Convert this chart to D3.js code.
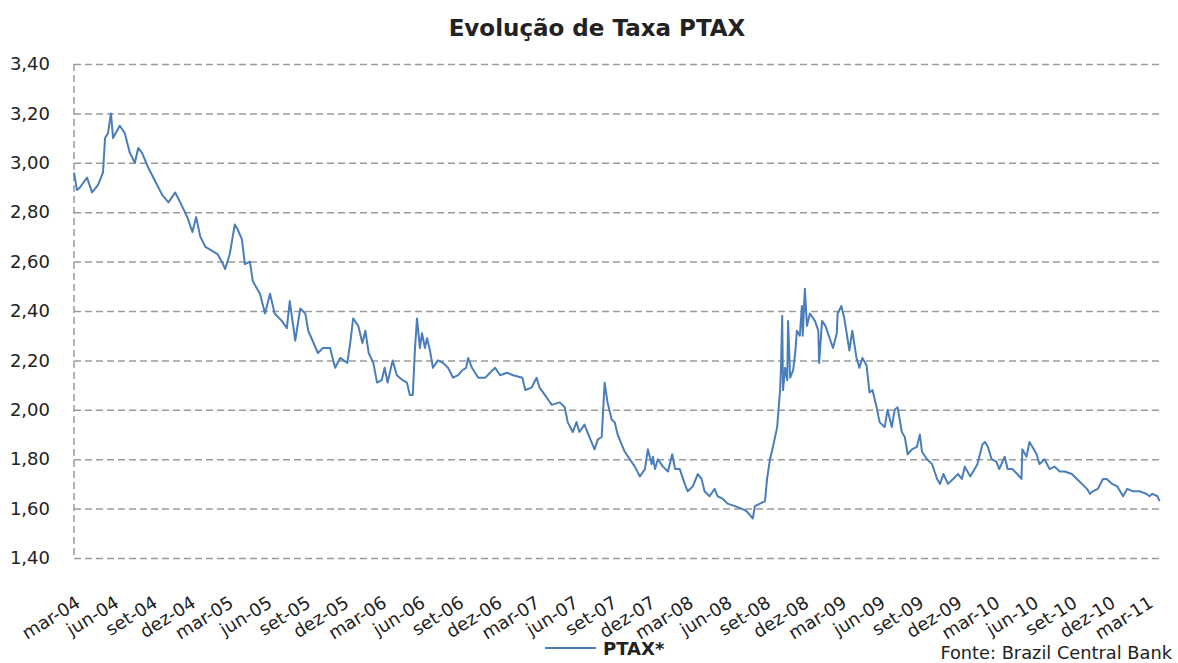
<!DOCTYPE html>
<html>
<head>
<meta charset="utf-8">
<script src="https://cdn.jsdelivr.net/npm/d3@7"></script>
<style>
  body { margin: 0; background: #fff; }
  text { font-family: 'DejaVu Sans', Verdana, sans-serif; fill: #222; }
</style>
</head>
<body>
<div id="chart"></div>
<script>
// PTAX (BRL per USD)
const dates = [
  '2004-03-01','2004-03-08','2004-03-15','2004-04-01','2004-04-13','2004-04-27','2004-05-09','2004-05-14','2004-05-21','2004-05-28',
  '2004-06-02','2004-06-18','2004-06-30','2004-07-12','2004-07-24','2004-08-01','2004-08-10','2004-08-25','2004-09-15','2004-09-27',
  '2004-10-12','2004-10-28','2004-11-09','2004-11-26','2004-12-08','2004-12-17','2004-12-27',
  '2005-01-08','2005-02-06','2005-02-19','2005-02-24','2005-03-07','2005-03-19','2005-03-26','2005-04-05','2005-04-12','2005-04-24',
  '2005-05-01','2005-05-18','2005-05-30','2005-06-11','2005-06-22','2005-07-09','2005-07-21','2005-07-28','2005-08-10','2005-08-22',
  '2005-09-03','2005-09-10','2005-10-03','2005-10-15','2005-11-01','2005-11-13','2005-11-25','2005-12-12','2005-12-19','2005-12-26',
  '2006-01-07','2006-01-17','2006-01-24','2006-02-01','2006-02-12','2006-02-21','2006-03-04','2006-03-11','2006-03-18','2006-03-30',
  '2006-04-09','2006-04-23','2006-05-03','2006-05-10','2006-05-17','2006-05-22','2006-05-27','2006-06-03','2006-06-08','2006-06-15',
  '2006-06-20','2006-06-27','2006-07-04','2006-07-16','2006-07-28','2006-08-09','2006-08-21','2006-09-02','2006-09-12','2006-09-21',
  '2006-09-26','2006-10-05','2006-10-20','2006-11-06','2006-11-17','2006-11-29','2006-12-11','2006-12-28',
  '2007-01-11','2007-02-02','2007-02-09','2007-02-24','2007-03-08','2007-03-15','2007-04-01','2007-04-13','2007-05-02','2007-05-14',
  '2007-05-21','2007-06-02','2007-06-11','2007-06-18','2007-06-30','2007-07-07','2007-07-24','2007-08-01','2007-08-10','2007-08-12',
  '2007-08-17','2007-08-24','2007-09-03','2007-09-10','2007-09-17','2007-09-29','2007-10-04','2007-10-16','2007-10-28','2007-11-09',
  '2007-11-21','2007-11-28','2007-12-07','2007-12-10','2007-12-15','2007-12-22',
  '2008-01-03','2008-01-15','2008-01-25','2008-02-01','2008-02-12','2008-02-24','2008-03-02','2008-03-14','2008-03-26','2008-04-04',
  '2008-04-11','2008-04-23','2008-05-05','2008-05-12','2008-05-24','2008-06-05','2008-06-22','2008-07-08','2008-07-20','2008-08-04',
  '2008-08-09','2008-08-21','2008-09-02','2008-09-07','2008-09-14','2008-09-21','2008-10-01','2008-10-08','2008-10-10','2008-10-13',
  '2008-10-15','2008-10-20','2008-10-25','2008-10-27','2008-11-01','2008-11-08','2008-11-13','2008-11-17','2008-11-24','2008-11-29',
  '2008-12-01','2008-12-06','2008-12-11','2008-12-18','2008-12-30',
  '2009-01-07','2009-01-09','2009-01-16','2009-01-24','2009-02-01','2009-02-11','2009-02-20','2009-02-22','2009-03-03','2009-03-10',
  '2009-03-22','2009-03-29','2009-04-08','2009-04-15','2009-04-22','2009-05-02','2009-05-09','2009-05-16','2009-05-26','2009-06-02',
  '2009-06-14','2009-06-21','2009-07-01','2009-07-08','2009-07-15','2009-07-25','2009-08-01','2009-08-08','2009-08-18','2009-08-30',
  '2009-09-06','2009-09-11','2009-09-23','2009-10-05','2009-10-17','2009-10-24','2009-11-01','2009-11-12','2009-11-24','2009-12-06',
  '2009-12-15','2009-12-22',
  '2010-01-04','2010-01-21','2010-02-02','2010-02-08','2010-02-15','2010-02-24','2010-03-07','2010-03-14','2010-03-27','2010-04-03',
  '2010-04-14','2010-04-26','2010-05-06','2010-05-08','2010-05-18','2010-05-25','2010-06-01','2010-06-11','2010-06-18','2010-06-30',
  '2010-07-12','2010-07-24','2010-08-05','2010-08-17','2010-09-03','2010-09-15','2010-09-27','2010-10-09','2010-10-16','2010-10-23',
  '2010-11-04','2010-11-16','2010-11-25','2010-12-08','2010-12-20','2010-12-27',
  '2011-01-03','2011-01-13','2011-01-27','2011-02-12','2011-02-27','2011-03-07','2011-03-14','2011-03-26','2011-03-31'
];

const ptax = [
  2.96,2.89,2.90,2.94,2.88,2.91,2.96,3.10,3.12,3.20,
  3.10,3.15,3.12,3.04,3.00,3.06,3.04,2.98,2.91,2.87,
  2.84,2.88,2.84,2.78,2.72,2.78,2.70,
  2.66,2.63,2.59,2.57,2.63,2.75,2.73,2.69,2.59,2.60,
  2.52,2.47,2.39,2.47,2.39,2.36,2.33,2.44,2.28,2.41,
  2.39,2.32,2.23,2.25,2.25,2.17,2.21,2.19,2.27,2.37,
  2.34,2.27,2.32,2.23,2.19,2.11,2.12,2.17,2.11,2.20,
  2.14,2.12,2.11,2.06,2.06,2.24,2.37,2.25,2.31,2.25,
  2.29,2.24,2.17,2.20,2.19,2.17,2.13,2.14,2.16,2.17,
  2.21,2.17,2.13,2.13,2.15,2.17,2.14,2.15,
  2.14,2.13,2.08,2.09,2.13,2.09,2.05,2.02,2.03,2.01,
  1.95,1.91,1.95,1.91,1.94,1.91,1.84,1.88,1.89,1.95,
  2.11,2.03,1.96,1.95,1.90,1.85,1.83,1.80,1.77,1.73,
  1.76,1.84,1.78,1.81,1.76,1.80,
  1.77,1.75,1.82,1.76,1.76,1.70,1.67,1.69,1.74,1.72,
  1.67,1.65,1.68,1.65,1.64,1.62,1.61,1.60,1.59,1.56,
  1.61,1.62,1.63,1.72,1.80,1.85,1.93,2.08,2.16,2.38,
  2.08,2.17,2.12,2.36,2.13,2.16,2.23,2.32,2.30,2.42,
  2.30,2.49,2.34,2.39,2.36,
  2.32,2.19,2.36,2.34,2.30,2.25,2.31,2.39,2.42,2.37,
  2.24,2.32,2.21,2.17,2.21,2.18,2.07,2.08,2.01,1.95,
  1.93,2.00,1.93,2.00,2.01,1.91,1.89,1.82,1.84,1.85,
  1.90,1.83,1.80,1.78,1.72,1.70,1.74,1.70,1.72,1.74,
  1.72,1.77,
  1.73,1.78,1.86,1.87,1.85,1.80,1.79,1.76,1.81,1.76,
  1.76,1.74,1.72,1.84,1.81,1.87,1.85,1.82,1.78,1.80,
  1.76,1.77,1.75,1.75,1.74,1.72,1.70,1.68,1.66,1.67,
  1.68,1.72,1.72,1.70,1.69,1.67,
  1.65,1.68,1.67,1.67,1.66,1.65,1.66,1.65,1.63
];

const yTicks = [1.40, 1.60, 1.80, 2.00, 2.20, 2.40, 2.60, 2.80, 3.00, 3.20, 3.40];
const monthNames = ['jan','fev','mar','abr','mai','jun','jul','ago','set','out','nov','dez'];
const startDate = '2004-03-01', endDate = '2011-04-01';
const seriesName = 'PTAX*';
const chartTitle = 'Evolução de Taxa PTAX';
const sourceNote = 'Fonte: Brazil Central Bank';

const W = 1178, H = 663;
const margin = { top: 64, left: 74, right: 18, bottom: 105 };
const width = W - margin.left - margin.right,
      height = H - margin.top - margin.bottom;

const parse = d3.timeParse('%Y-%m-%d');
const data = dates.map((d, i) => ({ date: parse(d), value: ptax[i] }));

const svg = d3.select('#chart').append('svg')
    .attr('width', W)
    .attr('height', H);

svg.append('text')
    .attr('x', 597)
    .attr('y', 36)
    .attr('text-anchor', 'middle')
    .style('font-size', '23px')
    .style('font-weight', 'bold')
    .text(chartTitle);

const g = svg.append('g')
    .attr('transform', 'translate(' + margin.left + ',' + margin.top + ')');

const x = d3.scaleTime()
    .domain([parse(startDate), parse(endDate)])
    .range([0, width]);

const y = d3.scaleLinear()
    .domain([1.4, 3.4])
    .range([height, 0]);

// horizontal dashed grid + y labels
const yAxis = g.append('g')
    .call(d3.axisLeft(y)
      .tickValues(yTicks)
      .tickSize(-width)
      .tickPadding(24)
      .tickFormat(d => d3.format('.2f')(d).replace('.', ',')));
yAxis.select('.domain').remove();
yAxis.selectAll('line')
    .attr('stroke', '#9a9a9a')
    .attr('stroke-width', 1.5)
    .attr('stroke-dasharray', '7,4');
yAxis.selectAll('text')
    .style('font-size', '18px')
    .attr('fill', '#222');

// dashed left axis
g.append('line')
    .attr('x1', 0).attr('x2', 0)
    .attr('y1', 0).attr('y2', height)
    .attr('stroke', '#9a9a9a')
    .attr('stroke-width', 1.5)
    .attr('stroke-dasharray', '7,4');

// x labels every 3 months
const tickDates = d3.timeMonth.range(parse(startDate), parse(endDate), 3);
const xAxis = g.append('g')
    .attr('transform', 'translate(0,' + height + ')')
    .call(d3.axisBottom(x)
      .tickValues(tickDates)
      .tickSize(0)
      .tickFormat(d => monthNames[d.getMonth()] + '-' + d3.timeFormat('%y')(d)));
xAxis.select('.domain').remove();
xAxis.selectAll('text')
    .style('font-size', '18px')
    .attr('fill', '#222')
    .attr('text-anchor', 'end')
    .attr('y', 0)
    .attr('dy', 0)
    .attr('transform', 'translate(7,48) rotate(-32)');

// the series
const line = d3.line()
    .x(d => x(d.date))
    .y(d => y(d.value));

g.append('path')
    .datum(data)
    .attr('fill', 'none')
    .attr('stroke', '#4a7ebb')
    .attr('stroke-width', 2)
    .attr('stroke-linejoin', 'round')
    .attr('d', line);

// legend
const legend = svg.append('g')
    .attr('transform', 'translate(545,648)');
legend.append('line')
    .attr('x1', 0).attr('x2', 51)
    .attr('stroke', '#4a7ebb')
    .attr('stroke-width', 2);
legend.append('text')
    .attr('x', 58)
    .attr('y', 7)
    .style('font-size', '18px')
    .style('font-weight', 'bold')
    .text(seriesName);

svg.append('text')
    .attr('x', 1172)
    .attr('y', 659)
    .attr('text-anchor', 'end')
    .style('font-size', '17.8px')
    .text(sourceNote);
</script>
</body>
</html>
